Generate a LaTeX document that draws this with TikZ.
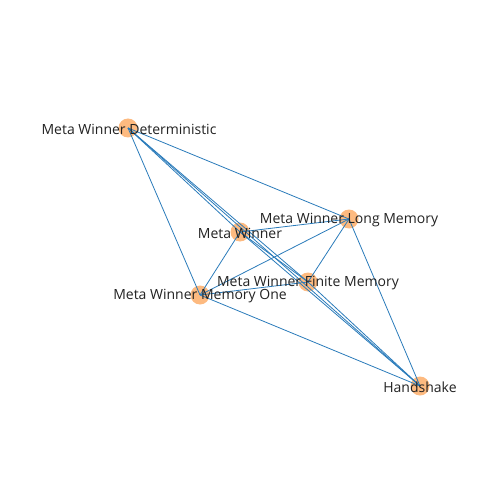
\documentclass[tikz,border=0pt]{standalone}
\usepackage{fontspec}
\setmainfont{Open Sans}
\definecolor{nodefill}{HTML}{FDBA80}
\definecolor{edgecol}{HTML}{2A7BBA}
\definecolor{txt}{HTML}{222222}
\begin{document}
\begin{tikzpicture}[x=1bp,y=-1bp,
  dot/.style={circle,fill=nodefill,inner sep=0pt,minimum size=19bp},
  lbl/.style={font=\fontsize{14bp}{16bp}\selectfont,text=txt,inner sep=0pt,anchor=center},
  edge/.style={draw=edgecol,line width=0.8bp}]
\useasboundingbox (0,0) rectangle (500,500);
\node[dot] (D) at (128,128) {};
\node[dot] (LM) at (349,219) {};
\node[dot] (MW) at (240,232) {};
\node[dot] (FM) at (308,282) {};
\node[dot] (MO) at (200,295) {};
\node[dot] (H) at (420,386) {};
\foreach \a/\b in {D/LM,D/MW,D/FM,D/H,D/MO,MW/LM,MW/MO,MW/FM,MW/H,MO/LM,MO/FM,MO/H,FM/LM,FM/H,LM/H}
  \draw[edge] (\a.center) -- (\b.center);
\node[lbl] (tD) at (129,129) {Meta Winner Deterministic};
\node[lbl] (tLM) at (349,220) {Meta Winner Long Memory};
\node[lbl] (tMW) at (240,233) {Meta Winner};
\node[lbl] (tFM) at (308,283) {Meta Winner Finite Memory};
\node[lbl] (tMO) at (200,296) {Meta Winner Memory One};
\node[lbl] (tH) at (420,387) {Handshake};
\end{tikzpicture}
\end{document}
